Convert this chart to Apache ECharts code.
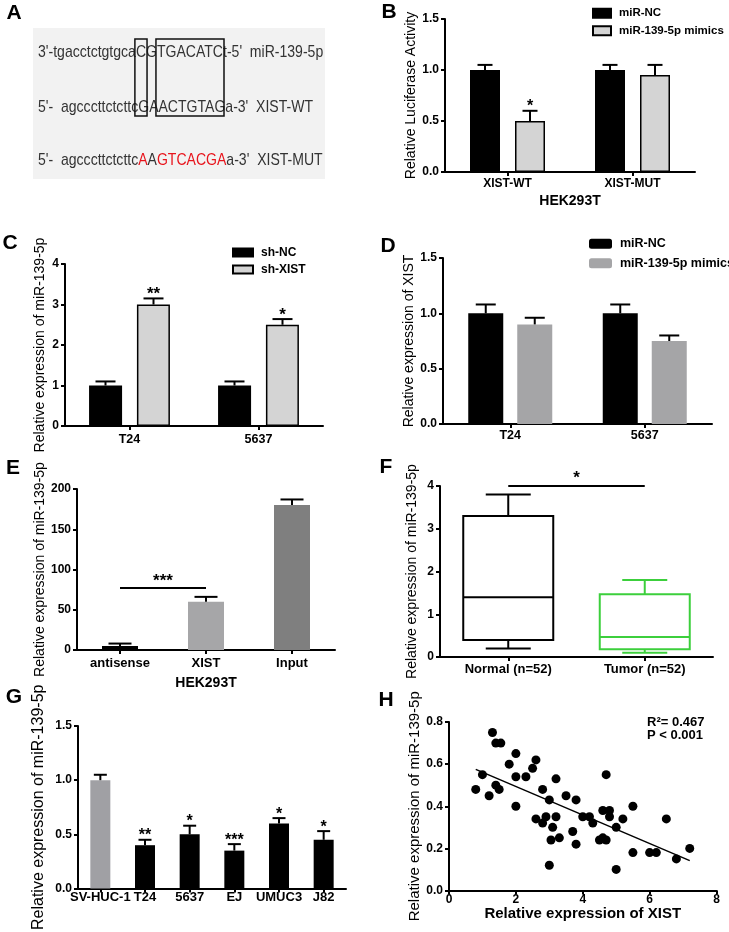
<!DOCTYPE html>
<html><head><meta charset="utf-8">
<script src="https://cdn.jsdelivr.net/npm/echarts@6/dist/echarts.min.js"></script>
<style>html,body{margin:0;padding:0;background:#fff}#c{width:729px;height:932px}</style>
</head><body><div id="c"></div>
<script>
// ---------- DATA ----------
// Panel A (sequence alignment)
const seqMir = "3'-tgacctctgtgca";
const seqMirSeed1 = "C";
const seqMirMid = "G";
const seqMirSeed2 = "TGACATC";
const seqMirEnd = "t-5'  miR-139-5p";
const seqWtPre = "5'-  agcccttctcttc";
const seqWt = "GAACTGTAG";
const seqWtEnd = "a-3'  XIST-WT";
const seqMutParts = ["5'-  agcccttctcttc", "A", "A", "GTCACGA", "a-3'  XIST-MUT"];
// Panel B
const bCats = ['XIST-WT', 'XIST-MUT'];
const bNC = [1.0, 1.0];
const bNCErr = [0.05, 0.05];
const bMim = [0.5, 0.95];
const bMimErr = [0.1, 0.1];
const bStars = ['*', ''];
// Panel C
const cCats = ['T24', '5637'];
const cNC = [1.0, 1.0];
const cNCErr = [0.1, 0.1];
const cSh = [3.0, 2.5];
const cShErr = [0.15, 0.14];
const cStars = ['**', '*'];
// Panel D
const dCats = ['T24', '5637'];
const dNC = [1.0, 1.0];
const dNCErr = [0.08, 0.08];
const dMim = [0.9, 0.75];
const dMimErr = [0.06, 0.05];
// Panel E
const eCats = ['antisense', 'XIST', 'Input'];
const eVals = [5, 60, 180];
const eErr = [3, 6, 7];
const eSig = [0, 1, 77, '***'];
// Panel F  [min, Q1, median, Q3, max]
const fCats = ['Normal (n=52)', 'Tumor (n=52)'];
const fBox = [[0.2, 0.4, 1.4, 3.3, 3.8], [0.1, 0.18, 0.47, 1.47, 1.8]];
const fSig = [0, 1, 4.0, '*'];
// Panel G
const gCats = ['SV-HUC-1', 'T24', '5637', 'EJ', 'UMUC3', 'J82'];
const gVals = [1.0, 0.4, 0.5, 0.35, 0.6, 0.45];
const gErr = [0.05, 0.05, 0.08, 0.06, 0.05, 0.08];
const gStars = ['', '**', '*', '***', '*', '*'];
// Panel H
const hX = [0.8,1.0,1.2,1.3,1.4,1.55,1.4,1.5,1.8,2.0,2.0,2.0,2.3,2.5,2.6,2.6,2.8,2.8,2.9,3.0,3.0,3.05,3.1,3.2,3.2,3.3,3.5,3.7,3.8,3.8,4.0,4.2,4.3,4.5,4.6,4.6,4.7,4.7,4.8,4.8,5.0,5.0,5.2,5.5,5.5,6.0,6.2,6.5,6.8,7.2];
const hY = [0.48,0.55,0.45,0.75,0.70,0.70,0.50,0.48,0.60,0.65,0.54,0.40,0.54,0.58,0.62,0.34,0.48,0.32,0.35,0.43,0.12,0.24,0.30,0.53,0.35,0.25,0.45,0.28,0.43,0.22,0.35,0.35,0.32,0.24,0.38,0.25,0.55,0.24,0.38,0.35,0.30,0.10,0.34,0.40,0.18,0.18,0.18,0.34,0.15,0.20];
const hFit = [[0.8, 0.575], [7.2, 0.142]];
const hStats = ['R\u00b2= 0.467', 'P < 0.001'];

// ---------- STYLE ----------
const FF = 'Arial, "Liberation Sans", sans-serif';
const eColors = ['#000000', '#a6a6a8', '#7f7f7f'];
const fColors = ['#000000', '#3ccf3c'];
const gColors = ['#a0a0a4', '#000', '#000', '#000', '#000', '#000'];

function yAx(grid, min, max, interval, name, gap, dec, nameSize, nameWeight) {
  return {gridIndex: grid, type: 'value', min, max, interval, name, nameLocation: 'middle', nameGap: gap,
    nameTextStyle: {fontFamily: FF, fontSize: nameSize || 14, fontWeight: nameWeight || 'normal', color: '#000'},
    axisLine: {show: true, lineStyle: {color: '#000', width: 2}},
    axisTick: {show: true, length: 4, lineStyle: {color: '#000', width: 2}},
    axisLabel: {margin: 6, fontFamily: FF, fontWeight: 'bold', fontSize: 12, color: '#000',
      formatter: v => v.toFixed(dec)},
    splitLine: {show: false}};
}
function xCat(grid, data, margin, fs, name, gap) {
  return {gridIndex: grid, type: 'category', data, name: name || '', nameLocation: 'middle', nameGap: gap || 20,
    nameTextStyle: {fontFamily: FF, fontSize: 14, fontWeight: 'bold', color: '#000'},
    axisLine: {show: true, lineStyle: {color: '#000', width: 2}},
    axisTick: {show: true, alignWithLabel: true, length: 4, lineStyle: {color: '#000', width: 2}},
    axisLabel: {margin, fontFamily: FF, fontWeight: 'bold', fontSize: fs || 13, color: '#000', interval: 0},
    splitLine: {show: false}};
}
function errSeries(ax, vals, errs, offset, capW, stars, starSize) {
  return {type: 'custom', xAxisIndex: ax, yAxisIndex: ax, z: 5, encode: {x: 0, y: 1},
    data: vals.map((v, i) => [i, v, errs[i]]),
    renderItem(params, api) {
      const i = api.value(0), v = api.value(1), e = api.value(2);
      const base = api.coord([i, v]);
      const top = api.coord([i, v + e]);
      const x = base[0] + offset;
      const ch = [
        {type: 'line', shape: {x1: x, y1: base[1], x2: x, y2: top[1]}, style: {stroke: '#000', lineWidth: 2}},
        {type: 'line', shape: {x1: x - capW / 2, y1: top[1], x2: x + capW / 2, y2: top[1]}, style: {stroke: '#000', lineWidth: 2}}
      ];
      const s = stars && stars[params.dataIndex];
      if (s) ch.push({type: 'text', x: x, y: top[1] - 4, style: {text: s, align: 'center', verticalAlign: 'middle',
        font: 'bold ' + (starSize || 17) + 'px ' + FF, fill: '#000'}});
      return {type: 'group', children: ch};
    }};
}
function sigSeries(ax, sig, starSize, starGap) {
  return {type: 'custom', xAxisIndex: ax, yAxisIndex: ax, z: 6, encode: {x: [0, 1], y: 2},
    data: [[sig[0], sig[1], sig[2]]],
    renderItem(params, api) {
      const p1 = api.coord([api.value(0), api.value(2)]);
      const p2 = api.coord([api.value(1), api.value(2)]);
      return {type: 'group', children: [
        {type: 'line', shape: {x1: p1[0], y1: p1[1], x2: p2[0], y2: p2[1]}, style: {stroke: '#000', lineWidth: 2}},
        {type: 'text', x: (p1[0] + p2[0]) / 2, y: p1[1] - starGap, style: {text: sig[3], align: 'center', verticalAlign: 'middle',
          font: 'bold ' + starSize + 'px ' + FF, fill: '#000'}}
      ]};
    }};
}

// ---------- PANEL A graphic ----------
const cv = document.createElement('canvas').getContext('2d');
const AFS = 17;
cv.font = AFS + 'px ' + FF;
const line1 = seqMir + seqMirSeed1 + seqMirMid + seqMirSeed2 + seqMirEnd;
const sx = 185 / cv.measureText(seqMir + seqMirSeed1 + seqMirMid + seqMirSeed2).width;
const mw = t => cv.measureText(t).width * sx;
const ax0 = 38;
const b1x = ax0 + mw(seqMir);
const b1w = mw(seqMirSeed1);
const b2x = ax0 + mw(seqMir + seqMirSeed1 + seqMirMid);
const b2w = mw(seqMirSeed2);
const txt = (t, y, rich) => ({type: 'text', x: ax0, y, scaleX: sx,
  style: {text: t, x: 0, y: 0, verticalAlign: 'middle', font: AFS + 'px ' + FF, fill: '#333', rich}});
const letter = (t, x, y) => ({type: 'text', x, y, style: {text: t, align: 'center', verticalAlign: 'middle',
  font: 'bold 21px ' + FF, fill: '#000'}});
const graphic = [
  {type: 'rect', shape: {x: 33, y: 28, width: 292, height: 151}, style: {fill: '#f2f2f2'}, z: -1},
  txt(line1, 52),
  txt(seqWtPre + seqWt + seqWtEnd, 107),
  txt('{k|' + seqMutParts[0] + '}{r|' + seqMutParts[1] + '}{k|' + seqMutParts[2] + '}{r|' + seqMutParts[3] + '}{k|' + seqMutParts[4] + '}', 160,
    {k: {fill: '#333', font: AFS + 'px ' + FF}, r: {fill: '#e8141c', font: AFS + 'px ' + FF}}),
  {type: 'rect', shape: {x: b1x - 1, y: 39, width: b1w + 2, height: 77}, style: {fill: 'none', stroke: '#111', lineWidth: 1.5}},
  {type: 'rect', shape: {x: b2x - 1, y: 39, width: b2w + 2, height: 77}, style: {fill: 'none', stroke: '#111', lineWidth: 1.5}},
  letter('A', 14, 13), letter('B', 389, 12), letter('C', 10, 243), letter('D', 388, 246),
  letter('E', 13, 468), letter('F', 386, 467), letter('G', 14, 697), letter('H', 386, 700),
  {type: 'text', x: 647, y: 722, style: {text: hStats[0], verticalAlign: 'middle', font: 'bold 13px ' + FF, fill: '#000'}},
  {type: 'text', x: 647, y: 735, style: {text: hStats[1], verticalAlign: 'middle', font: 'bold 13px ' + FF, fill: '#000'}}
];

const lgText = fs => ({fontFamily: FF, fontWeight: 'bold', fontSize: fs, color: '#000', lineHeight: fs + 1, padding: [0, 0, 0, 3]});

const option = {
  animation: false,
  backgroundColor: '#fff',
  graphic,
  grid: [
    {left: 445, top: 19, width: 250, height: 153},
    {left: 65, top: 264, width: 258, height: 162},
    {left: 443, top: 258, width: 269, height: 166},
    {left: 77, top: 489, width: 258, height: 161},
    {left: 440, top: 486, width: 273, height: 171},
    {left: 78, top: 726, width: 268, height: 168},
    {left: 449, top: 722, width: 267.5, height: 168.5}
  ],
  legend: [
    {left: 587, top: 2, orient: 'vertical', icon: 'rect', itemWidth: 18, itemHeight: 9, itemGap: 5,
      textStyle: lgText(11.5), data: ['miR-NC', 'miR-139-5p mimics'], selectedMode: false},
    {left: 227, top: 241, orient: 'vertical', icon: 'rect', itemWidth: 20, itemHeight: 8, itemGap: 4,
      textStyle: lgText(12), data: ['sh-NC', 'sh-XIST'], selectedMode: false},
    {left: 584, top: 232, orient: 'vertical', icon: 'roundRect', itemWidth: 23, itemHeight: 10, itemGap: 6,
      textStyle: lgText(12.5), data: ['miR-NC ', 'miR-139-5p mimics '], selectedMode: false}
  ],
  xAxis: [
    xCat(0, bCats, 6, 12, 'HEK293T', 22),
    xCat(1, cCats, 7, 12.5),
    xCat(2, dCats, 5, 12.5),
    xCat(3, eCats, 7, 13, 'HEK293T', 26),
    xCat(4, fCats, 6, 13),
    xCat(5, gCats, 2, 13),
    {gridIndex: 6, type: 'value', min: 0, max: 8, interval: 2, name: 'Relative expression of XIST',
      nameLocation: 'middle', nameGap: 16,
      nameTextStyle: {fontFamily: FF, fontSize: 15, fontWeight: 'bold', color: '#000'},
      axisLine: {show: true, lineStyle: {color: '#000', width: 2}},
      axisTick: {show: true, length: 4, lineStyle: {color: '#000', width: 2}},
      axisLabel: {margin: 3, fontFamily: FF, fontWeight: 'bold', fontSize: 12, color: '#000'},
      splitLine: {show: false}}
  ],
  yAxis: [
    yAx(0, 0, 1.5, 0.5, 'Relative Luciferase Activity', 25, 1, 14),
    yAx(1, 0, 4, 1, 'Relative expression of miR-139-5p', 18, 0, 14),
    yAx(2, 0, 1.5, 0.5, 'Relative expression of XIST', 20, 1, 14),
    yAx(3, 0, 200, 50, 'Relative expression of miR-139-5p', 30, 0, 14),
    yAx(4, 0, 4, 1, 'Relative expression of miR-139-5p', 21, 0, 14),
    yAx(5, 0, 1.5, 0.5, 'Relative expression of miR-139-5p', 31, 1, 16),
    yAx(6, 0, 0.8, 0.2, 'Relative expression of miR-139-5p', 27, 1, 15)
  ],
  series: [
    // B
    {name: 'miR-NC', type: 'bar', xAxisIndex: 0, yAxisIndex: 0, data: bNC, barWidth: 30, barGap: '50%',
      itemStyle: {color: '#000', borderColor: '#000', borderWidth: 1.5}},
    {name: 'miR-139-5p mimics', type: 'bar', xAxisIndex: 0, yAxisIndex: 0, data: bMim, barWidth: 30, barGap: '50%',
      itemStyle: {color: '#d4d4d4', borderColor: '#000', borderWidth: 1.5}},
    errSeries(0, bNC, bNCErr, -22.5, 15),
    errSeries(0, bMim, bMimErr, 22.5, 15, bStars, 16),
    // C
    {name: 'sh-NC', type: 'bar', xAxisIndex: 1, yAxisIndex: 1, data: cNC, barWidth: 33, barGap: '45%',
      itemStyle: {color: '#000', borderColor: '#000', borderWidth: 1.5}},
    {name: 'sh-XIST', type: 'bar', xAxisIndex: 1, yAxisIndex: 1, data: cSh, barWidth: 33, barGap: '45%',
      itemStyle: {color: '#d4d4d4', borderColor: '#000', borderWidth: 1.5}},
    errSeries(1, cNC, cNCErr, -24, 20),
    errSeries(1, cSh, cShErr, 24, 20, cStars, 17),
    // D
    {name: 'miR-NC ', type: 'bar', xAxisIndex: 2, yAxisIndex: 2, data: dNC, barWidth: 35, barGap: '40%',
      itemStyle: {color: '#000'}},
    {name: 'miR-139-5p mimics ', type: 'bar', xAxisIndex: 2, yAxisIndex: 2, data: dMim, barWidth: 35, barGap: '40%',
      itemStyle: {color: '#a5a5a7'}},
    errSeries(2, dNC, dNCErr, -24.5, 20),
    errSeries(2, dMim, dMimErr, 24.5, 20),
    // E
    {type: 'bar', xAxisIndex: 3, yAxisIndex: 3, barWidth: 36,
      data: eVals.map((v, i) => ({value: v, itemStyle: {color: eColors[i]}}))},
    errSeries(3, eVals, eErr, 0, 23),
    sigSeries(3, eSig, 17, 7),
    // F
    {type: 'custom', xAxisIndex: 4, yAxisIndex: 4, z: 4, encode: {x: 0, y: [1, 2, 3, 4, 5]},
      data: fBox.map((b, i) => [i].concat(b)),
      renderItem(params, api) {
        const i = api.value(0);
        const y = k => api.coord([i, api.value(k)])[1];
        const cx = api.coord([i, 0])[0];
        const w = 90, cw = 45, col = fColors[params.dataIndex];
        const st = {stroke: col, lineWidth: 2, fill: 'none'};
        return {type: 'group', children: [
          {type: 'rect', shape: {x: cx - w / 2, y: y(4), width: w, height: y(2) - y(4)}, style: st},
          {type: 'line', shape: {x1: cx - w / 2, y1: y(3), x2: cx + w / 2, y2: y(3)}, style: st},
          {type: 'line', shape: {x1: cx, y1: y(4), x2: cx, y2: y(5)}, style: st},
          {type: 'line', shape: {x1: cx - cw / 2, y1: y(5), x2: cx + cw / 2, y2: y(5)}, style: st},
          {type: 'line', shape: {x1: cx, y1: y(2), x2: cx, y2: y(1)}, style: st},
          {type: 'line', shape: {x1: cx - cw / 2, y1: y(1), x2: cx + cw / 2, y2: y(1)}, style: st}
        ]};
      }},
    sigSeries(4, fSig, 17, 8),
    // G
    {type: 'bar', xAxisIndex: 5, yAxisIndex: 5, barWidth: 20,
      data: gVals.map((v, i) => ({value: v, itemStyle: {color: gColors[i]}}))},
    errSeries(5, gVals, gErr, 0, 13, gStars, 16),
    // H
    {type: 'scatter', xAxisIndex: 6, yAxisIndex: 6, symbolSize: 9, itemStyle: {color: '#000', opacity: 1},
      data: hX.map((x, i) => [x, hY[i]])},
    {type: 'line', xAxisIndex: 6, yAxisIndex: 6, data: hFit, symbol: 'none', lineStyle: {color: '#000', width: 1.5}}
  ]
};
const chart = echarts.init(document.getElementById('c'), null, {renderer: 'canvas', width: 729, height: 932});
chart.setOption(option);
</script></body></html>
